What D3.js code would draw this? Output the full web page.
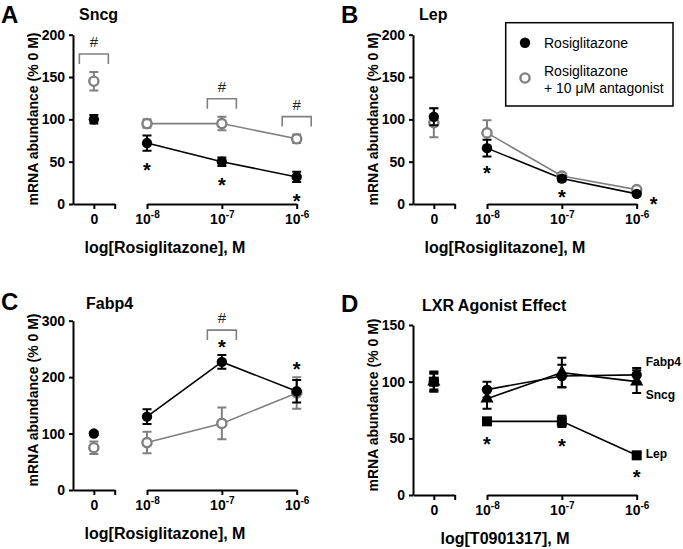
<!DOCTYPE html>
<html><head><meta charset="utf-8">
<script src="https://cdn.jsdelivr.net/npm/d3@7"></script>
<style>body{margin:0;background:#fff} text{font-family:Arial,"Liberation Sans",sans-serif}</style>
</head><body><svg id="c" width="683" height="549"></svg>
<script>
// ---------- data ----------
const doses = [0, 1e-8, 1e-7, 1e-6];
const doseLabels = [["0", ""], ["10", "-8"], ["10", "-7"], ["10", "-6"]];

const sncgRosi = [100, 72, 50, 32],   sncgRosiErr = [5, 9, 5, 6];
const sncgAnt  = [145, 95, 95, 77],   sncgAntErr  = [11, 5, 8, 5];

const lepRosi  = [103, 66, 30, 12],   lepRosiErr  = [10, 10, 3, 2];
const lepAnt   = [96, 84, 33, 17],    lepAntErr   = [17, 15, 3, 2];

const fabpRosi = [100, 130, 227, 175], fabpRosiErr = [3, 13, 12, 20];
const fabpAnt  = [75, 84, 118, 172],   fabpAntErr  = [11, 19, 28, 28];

const lxrFabp4 = [100, 93, 105, 106], lxrFabp4Err = [8, 7, 10, 6];
const lxrSncg  = [100, 85, 108, 100], lxrSncgErr  = [9, 9, 13, 10];
const lxrLep   = [100, 65, 65, 35],   lxrLepErr   = [7, 3, 5, 2];

const ticks200 = [0, 50, 100, 150, 200];
const ticks300 = [0, 100, 200, 300];
const ticks150 = [0, 50, 100, 150];

const starsA = [1, 2, 3], starsB = [1, 2, 3], starsC = [2, 3], starsD = [1, 2, 3];
const hashA = [0, 2, 3], hashC = [2];

const legendLabels = [["Rosiglitazone"], ["Rosiglitazone", "+ 10 \u03bcM antagonist"]];

// ---------- drawing ----------
const GREY = "#808080";
const svg = d3.select("#c");

function marker(g, type, color, x, y) {
  if (type === "filled") g.append("circle").attr("cx", x).attr("cy", y).attr("r", 5.2).attr("fill", color);
  else if (type === "open") g.append("circle").attr("cx", x).attr("cy", y).attr("r", 4.6)
      .attr("fill", "#fff").attr("stroke", color).attr("stroke-width", 2.4);
  else {
    const sym = type === "triangle" ? d3.symbolTriangle : d3.symbolSquare;
    const size = type === "triangle" ? 75 : 100;
    g.append("path").attr("d", d3.symbol(sym, size)()).attr("transform", `translate(${x},${y})`).attr("fill", color);
  }
}

function panel(cfg) {
  const g = svg.append("g").attr("transform", `translate(${cfg.ox},${cfg.oy})`);
  const y = d3.scaleLinear().domain([0, cfg.yMax]).range([cfg.yBot, cfg.yTop]);
  const xZero = d3.scaleLinear().domain([-1, 1]).range([73, 114.7]);
  const xLog = d3.scaleLog().domain([1e-8, 1e-6]).range([147, 296.7]);
  const xPos = d => d === 0 ? xZero(0) : xLog(d);

  // axes
  const ya = g.append("g").attr("transform", "translate(73,0)")
    .call(d3.axisLeft(y).tickValues(cfg.yTicks).tickSize(4).tickPadding(4).tickSizeOuter(0));
  const xa1 = g.append("g").attr("transform", `translate(0,${cfg.yBot})`)
    .call(d3.axisBottom(xZero).tickValues([0, 1]).tickSize(5).tickPadding(5).tickSizeOuter(0));
  const xa2 = g.append("g").attr("transform", `translate(0,${cfg.yBot})`)
    .call(d3.axisBottom(xLog).tickValues(doses.slice(1)).tickSize(5).tickPadding(5).tickSizeOuter(0));
  [ya, xa1, xa2].forEach(a => {
    a.selectAll("path.domain,line").attr("stroke", "#000").attr("stroke-width", 2);
    a.selectAll("text").attr("font-size", 14).attr("font-weight", "bold").attr("fill", "#000")
      .style("font-family", "Arial, 'Liberation Sans', sans-serif");
  });
  xa1.selectAll(".tick text").each(function (d) {
    d3.select(this).text(d === 0 ? doseLabels[0][0] : "");
  });
  xa2.selectAll(".tick text").each(function (d) {
    const lab = doseLabels[doses.indexOf(d)];
    const t = d3.select(this).text(null);
    t.append("tspan").text(lab[0]);
    t.append("tspan").attr("font-size", 10).attr("dy", -6).text(lab[1]);
  });

  // titles
  g.append("text").attr("x", 1).attr("y", cfg.letterY).attr("font-size", 24).attr("font-weight", "bold").text(cfg.letter);
  g.append("text").attr("x", cfg.titleX).attr("y", cfg.titleY).attr("font-size", 16).attr("font-weight", "bold").text(cfg.title);
  g.append("text").attr("transform", `translate(38,${cfg.yTitleC}) rotate(-90)`).attr("text-anchor", "middle")
    .attr("font-size", 14).attr("font-weight", "bold").text("mRNA abundance (% 0 M)");
  g.append("text").attr("x", 165).attr("y", cfg.yBot + 49).attr("text-anchor", "middle")
    .attr("font-size", 16).attr("font-weight", "bold").text(cfg.xTitle);

  // series
  const line = d3.line().x(d => xPos(d.x)).y(d => y(d.v));
  cfg.series.forEach(s => {
    const pts = doses.map((x, i) => ({ x, v: s.values[i], e: s.errs[i] }));
    g.append("path").datum(pts.slice(1)).attr("d", line).attr("fill", "none")
      .attr("stroke", s.color).attr("stroke-width", 1.6);
  });
  cfg.series.forEach(s => {
    const pts = doses.map((x, i) => ({ x, v: s.values[i], e: s.errs[i] }));
    pts.forEach(p => {
      const cx = xPos(p.x), y1 = y(p.v + p.e), y2 = y(p.v - p.e);
      g.append("path").attr("d", `M${cx},${y1}V${y2}M${cx - 4.5},${y1}H${cx + 4.5}M${cx - 4.5},${y2}H${cx + 4.5}`)
        .attr("stroke", s.color).attr("stroke-width", 2).attr("fill", "none");
    });
    pts.forEach(p => marker(g, s.marker, s.color, xPos(p.x), y(p.v)));
    if (s.label) {
      g.append("text").attr("x", xPos(1e-6) + 9).attr("y", y(s.values[3]) + s.labelDy + 4.5)
        .attr("font-size", 12).attr("font-weight", "bold").text(s.label);
    }
  });

  // stars
  const ref = cfg.series[cfg.starRef];
  cfg.stars.forEach(i => {
    let cy;
    if (cfg.starSide === "below") cy = y(ref.values[i] - ref.errs[i]) + cfg.starGap;
    else {
      const top = d3.max(cfg.series, s => s.values[i] + s.errs[i]);
      cy = y(top) - cfg.starGap;
    }
    const sh = (cfg.starShift && cfg.starShift[i]) ? cfg.starShift[i] : [0, 0];
    const cx = xPos(doses[i]) + sh[0];
    g.append("text").attr("x", cx).attr("y", cy + sh[1] + 11).attr("text-anchor", "middle")
      .attr("font-size", 20).attr("font-weight", "bold").text("*");
  });

  // brackets
  (cfg.hash || []).forEach(i => {
    const top = d3.max(cfg.series, s => s.values[i] + s.errs[i]);
    const by = y(top) - cfg.hashGap;
    const cx = xPos(doses[i]);
    g.append("path").attr("d", `M${cx - 14.5},${by + 10}V${by}H${cx + 14.5}V${by + 10}`)
      .attr("fill", "none").attr("stroke", GREY).attr("stroke-width", 1.6);
    g.append("text").attr("x", cx).attr("y", by - 7).attr("text-anchor", "middle")
      .attr("font-size", 15).attr("fill", "#222").text("#");
  });
  return g;
}

panel({ ox: 0, oy: 0, letter: "A", letterY: 23, title: "Sncg", titleX: 79, titleY: 20,
  yMax: 200, yTicks: ticks200, yTop: 34.7, yBot: 204, yTitleC: 119,
  xTitle: "log[Rosiglitazone], M",
  series: [
    { values: sncgAnt, errs: sncgAntErr, color: GREY, marker: "open" },
    { values: sncgRosi, errs: sncgRosiErr, color: "#000", marker: "filled" }],
  starRef: 1, stars: starsA, starSide: "below", starGap: 15,
  hash: hashA, hashGap: 18 });

const gB = panel({ ox: 340, oy: 0, letter: "B", letterY: 23, title: "Lep", titleX: 79, titleY: 20,
  yMax: 200, yTicks: ticks200, yTop: 34.7, yBot: 204, yTitleC: 119,
  xTitle: "log[Rosiglitazone], M",
  series: [
    { values: lepAnt, errs: lepAntErr, color: GREY, marker: "open" },
    { values: lepRosi, errs: lepRosiErr, color: "#000", marker: "filled" }],
  starRef: 1, stars: starsB, starSide: "below", starGap: 12, starShift: { 3: [17, -8] } });

// legend
const lg = gB.append("g");
lg.append("rect").attr("x", 165.7).attr("y", 22.7).attr("width", 167.3).attr("height", 83.3)
  .attr("fill", "#fff").attr("stroke", "#000").attr("stroke-width", 1.5);
marker(lg, "filled", "#000", 185, 42.7);
marker(lg, "open", GREY, 185, 78);
lg.append("text").attr("x", 204).attr("y", 47.7).attr("font-size", 14).text(legendLabels[0][0]);
lg.append("text").attr("x", 204).attr("y", 75.7).attr("font-size", 14).text(legendLabels[1][0]);
lg.append("text").attr("x", 204).attr("y", 93).attr("font-size", 14).text(legendLabels[1][1]);

panel({ ox: 0, oy: 270, letter: "C", letterY: 40, title: "Fabp4", titleX: 86, titleY: 39,
  yMax: 300, yTicks: ticks300, yTop: 50.7, yBot: 220, yTitleC: 130,
  xTitle: "log[Rosiglitazone], M",
  series: [
    { values: fabpAnt, errs: fabpAntErr, color: GREY, marker: "open" },
    { values: fabpRosi, errs: fabpRosiErr, color: "#000", marker: "filled" }],
  starRef: 1, stars: starsC, starSide: "above", starGap: 12,
  hash: hashC, hashGap: 25 });

panel({ ox: 340, oy: 270, letter: "D", letterY: 41.7, title: "LXR Agonist Effect", titleX: 82, titleY: 41,
  yMax: 150, yTicks: ticks150, yTop: 55, yBot: 225, yTitleC: 135,
  xTitle: "log[T0901317], M",
  series: [
    { values: lxrFabp4, errs: lxrFabp4Err, color: "#000", marker: "filled", label: "Fabp4", labelDy: -13 },
    { values: lxrSncg, errs: lxrSncgErr, color: "#000", marker: "triangle", label: "Sncg", labelDy: 13 },
    { values: lxrLep, errs: lxrLepErr, color: "#000", marker: "square", label: "Lep", labelDy: -2 }],
  starRef: 2, stars: starsD, starSide: "below", starGap: 15 });
</script></body></html>
